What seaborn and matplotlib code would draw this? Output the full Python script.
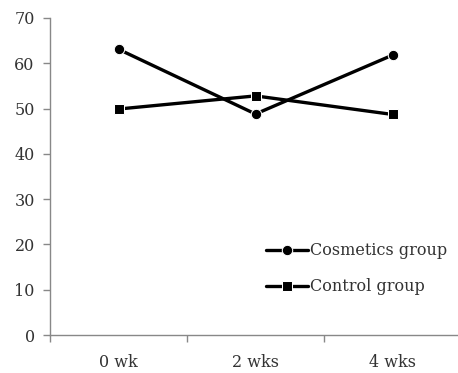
import numpy as np
import pandas as pd
import matplotlib
matplotlib.use("Agg")
import matplotlib.pyplot as plt
import seaborn as sns

weeks = ["0 wk", "2 wks", "4 wks"]
cosmetics = [63.1, 48.8, 61.8]
control = [49.9, 52.8, 48.7]

data = pd.DataFrame({
    "week": weeks * 2,
    "pos": list(range(len(weeks))) * 2,
    "value": cosmetics + control,
    "group": ["Cosmetics group"] * 3 + ["Control group"] * 3,
})

sns.set_style("white")
plt.rcParams["font.family"] = ["DejaVu Serif"]

fig = plt.figure(figsize=(4.58, 3.73), dpi=100)
ax = fig.add_axes([50 / 458, 38 / 373, 411 / 458, 317 / 373])

sns.lineplot(data=data, x="pos", y="value", hue="group", style="group",
             markers={"Cosmetics group": "o", "Control group": "s"},
             dashes=False, palette={"Cosmetics group": "black", "Control group": "black"},
             linewidth=2.4, markersize=7.5, ax=ax)

ax.set_xlim(-0.5, 2.5)
ax.set_ylim(0, 70)
ax.set_yticks(range(0, 71, 10))
ax.set_xticks(range(len(weeks)))
ax.set_xticklabels(weeks)
ax.set_xticks([-0.5, 0.5, 1.5, 2.5], minor=True)
ax.tick_params(axis="x", which="major", bottom=True, length=0, pad=14,
               labelsize=11.5, labelcolor="#333333")
ax.tick_params(axis="x", which="minor", bottom=True, length=5, color="#888888",
               width=1, direction="out")
ax.tick_params(axis="y", left=True, length=5, color="#888888", width=1,
               direction="out", labelsize=11.5, labelcolor="#333333", pad=6)
ax.set_xlabel("")
ax.set_ylabel("")
for s in ["top", "right"]:
    ax.spines[s].set_visible(False)
for s in ["left", "bottom"]:
    ax.spines[s].set_color("#888888")
    ax.spines[s].set_linewidth(1)

leg = ax.legend(loc="lower right", bbox_to_anchor=(1.0, 0.08), frameon=False,
                fontsize=11.5, handlelength=2.6, handletextpad=0.1, labelspacing=1.2)
for t in leg.get_texts():
    t.set_color("#333333")

fig.savefig("out.png", dpi=100)
